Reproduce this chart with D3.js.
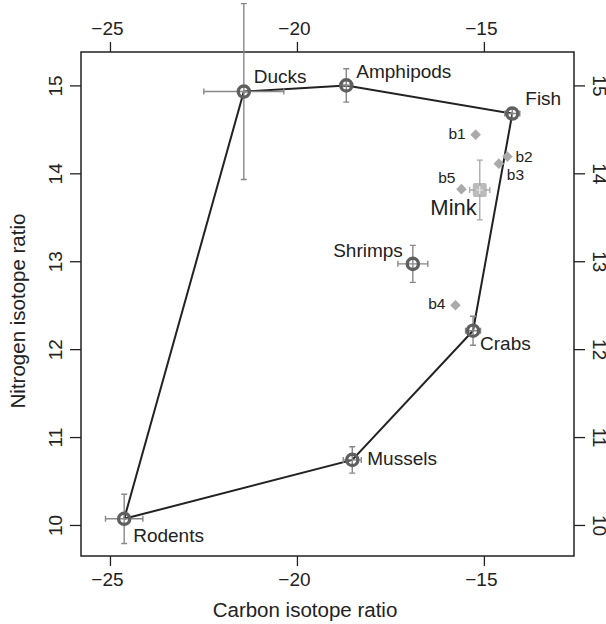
<!DOCTYPE html>
<html>
<head>
<meta charset="utf-8">
<script src="https://cdn.jsdelivr.net/npm/d3@7"></script>
<style>
  body { margin: 0; background: #fff; }
  svg { font-family: "Liberation Sans", Arial, Helvetica, sans-serif; }
</style>
</head>
<body>
<div id="chart"></div>
<script>
// prey sources (mean +/- sd)
var sources = ["Ducks", "Amphipods", "Fish", "Shrimps", "Crabs", "Mussels", "Rodents"];
var srcCarbon = [-21.42, -18.68, -14.24, -16.90, -15.29, -18.52, -24.62];
var srcNitrogen = [14.93, 15.00, 14.68, 12.97, 12.21, 10.74, 10.07];
var srcCarbonSd = [1.07, 0.10, 0.20, 0.40, 0.20, 0.24, 0.50];
var srcNitrogenSd = [1.00, 0.19, 0.06, 0.21, 0.165, 0.15, 0.28];

// hull order around the sources
var hullOrder = ["Rodents", "Ducks", "Amphipods", "Fish", "Crabs", "Mussels", "Rodents"];

// individual mink
var minkIds = ["b1", "b2", "b3", "b4", "b5"];
var minkCarbon = [-15.22, -14.37, -14.60, -15.76, -15.60];
var minkNitrogen = [14.44, 14.19, 14.11, 12.50, 13.82];

// mink mean
var minkMean = {name: "Mink", c: -15.11, n: 13.81, sc: 0.27, sn: 0.34};

var xTicks = [-25, -20, -15];
var yTicks = [10, 11, 12, 13, 14, 15];

// label placement (anchor, dx, dy)
var labelPos = {
  Ducks: ["start", 10, -9], Amphipods: ["start", 10, -7], Fish: ["start", 13, -9],
  Shrimps: ["end", -10, -7], Crabs: ["start", 7, 19], Mussels: ["start", 15, 5],
  Rodents: ["start", 9, 23],
  b1: ["end", -10, 4.5], b2: ["start", 8, 5.6], b3: ["start", 8, 16],
  b4: ["end", -10, 4], b5: ["end", -6, -6], Mink: ["end", -3, 25]
};

var width = 606, height = 624;
var mLeft = 81, mRight = 574, mTop = 52, mBottom = 556;

var svg = d3.select("#chart").append("svg")
  .attr("width", width)
  .attr("height", height);

var x = d3.scaleLinear().domain([-25.775, -12.59]).range([mLeft, mRight]);
var y = d3.scaleLinear().domain([9.647, 15.38]).range([mBottom, mTop]);

var fmt = function(d) { return d3.format("d")(d).replace("-", "\u2212"); };

function styleAxis(g) {
  g.select(".domain").remove();
  g.selectAll(".tick line").attr("stroke", "#222").attr("stroke-width", 1.3);
  g.selectAll(".tick text").attr("fill", "#222").style("font-size", "19px");
}

// bottom
svg.append("g")
  .attr("transform", "translate(0," + mBottom + ")")
  .call(d3.axisBottom(x).tickValues(xTicks).tickSize(10).tickPadding(7).tickFormat(fmt))
  .call(styleAxis)
  .selectAll(".tick text").attr("dx", "-3");

// top
svg.append("g")
  .attr("transform", "translate(0," + mTop + ")")
  .call(d3.axisTop(x).tickValues(xTicks).tickSize(10).tickPadding(7).tickFormat(fmt))
  .call(styleAxis)
  .selectAll(".tick text").attr("dx", "-3");

// left
var gl = svg.append("g")
  .attr("transform", "translate(" + mLeft + ",0)")
  .call(d3.axisLeft(y).tickValues(yTicks).tickSize(11).tickFormat(fmt))
  .call(styleAxis);
gl.selectAll(".tick text")
  .attr("x", null).attr("dy", null)
  .attr("text-anchor", "middle")
  .attr("transform", "translate(-19,0) rotate(-90)");

// right
var gr = svg.append("g")
  .attr("transform", "translate(" + mRight + ",0)")
  .call(d3.axisRight(y).tickValues(yTicks).tickSize(11).tickFormat(fmt))
  .call(styleAxis);
gr.selectAll(".tick text")
  .attr("x", null).attr("dy", null)
  .attr("text-anchor", "middle")
  .attr("transform", "translate(19,0) rotate(90)");

// box
svg.append("rect")
  .attr("x", mLeft).attr("y", mTop)
  .attr("width", mRight - mLeft).attr("height", mBottom - mTop)
  .attr("fill", "none").attr("stroke", "#222").attr("stroke-width", 1.5);

// axis titles
svg.append("text")
  .attr("x", 305).attr("y", 617)
  .attr("text-anchor", "middle")
  .style("font-size", "20.5px").attr("fill", "#222")
  .text("Carbon isotope ratio");

svg.append("text")
  .attr("transform", "translate(25," + 311 + ") rotate(-90)")
  .attr("text-anchor", "middle")
  .style("font-size", "20.5px").attr("fill", "#222")
  .text("Nitrogen isotope ratio");

var src = sources.map(function(s, i) {
  return {name: s, c: srcCarbon[i], n: srcNitrogen[i], sc: srcCarbonSd[i], sn: srcNitrogenSd[i]};
});
var byName = {};
src.forEach(function(d) { byName[d.name] = d; });

// hull
var line = d3.line().x(function(d) { return x(d.c); }).y(function(d) { return y(d.n); });
svg.append("path")
  .datum(hullOrder.map(function(n) { return byName[n]; }))
  .attr("d", line)
  .attr("fill", "none").attr("stroke", "#222").attr("stroke-width", 2);

// error bars
function errorBars(data, color) {
  var g = svg.append("g").attr("stroke", color).attr("stroke-width", 1.4).attr("fill", "none");
  var cap = 3;
  data.forEach(function(d) {
    var cx = x(d.c), cy = y(d.n);
    var x0 = x(d.c - d.sc), x1 = x(d.c + d.sc);
    var y0 = y(d.n - d.sn), y1 = y(d.n + d.sn);
    g.append("path").attr("d",
      "M" + x0 + "," + cy + "H" + x1 +
      "M" + x0 + "," + (cy - cap) + "V" + (cy + cap) +
      "M" + x1 + "," + (cy - cap) + "V" + (cy + cap) +
      "M" + cx + "," + y0 + "V" + y1 +
      "M" + (cx - cap) + "," + y0 + "H" + (cx + cap) +
      "M" + (cx - cap) + "," + y1 + "H" + (cx + cap));
  });
}

errorBars(src, "#888");

// source markers
svg.append("g").selectAll("circle")
  .data(src).enter().append("circle")
  .attr("cx", function(d) { return x(d.c); })
  .attr("cy", function(d) { return y(d.n); })
  .attr("r", 5.6)
  .attr("fill", "none").attr("stroke", "#5f5f5f").attr("stroke-width", 3.4);

// individual mink (diamonds)
var minks = minkIds.map(function(id, i) { return {name: id, c: minkCarbon[i], n: minkNitrogen[i]}; });
svg.append("g").selectAll("path")
  .data(minks).enter().append("path")
  .attr("transform", function(d) { return "translate(" + x(d.c) + "," + y(d.n) + ") rotate(45)"; })
  .attr("d", d3.symbol().type(d3.symbolSquare).size(56))
  .attr("fill", "#aaa");

// mink mean
svg.append("rect")
  .attr("x", x(minkMean.c) - 7).attr("y", y(minkMean.n) - 7)
  .attr("width", 14).attr("height", 14).attr("rx", 2)
  .attr("fill", "#bbb");
errorBars([minkMean], "#aaa");
svg.append("path")
  .attr("d", "M" + (x(minkMean.c) - 4) + "," + y(minkMean.n) + "h8M" + x(minkMean.c) + "," + (y(minkMean.n) - 4) + "v8")
  .attr("stroke", "#eee").attr("stroke-width", 1.2);

// labels
var allLabels = src.concat(minks).concat([minkMean]);
svg.append("g").selectAll("text")
  .data(allLabels).enter().append("text")
  .attr("x", function(d) { return x(d.c) + labelPos[d.name][1]; })
  .attr("y", function(d) { return y(d.n) + labelPos[d.name][2]; })
  .attr("text-anchor", function(d) { return labelPos[d.name][0]; })
  .style("font-size", function(d) {
    if (d.name === "Mink") return "22px";
    if (d.name.charAt(0) === "b") return "15.5px";
    return "19px";
  })
  .attr("fill", "#222")
  .text(function(d) { return d.name; });
</script>
</body>
</html>
